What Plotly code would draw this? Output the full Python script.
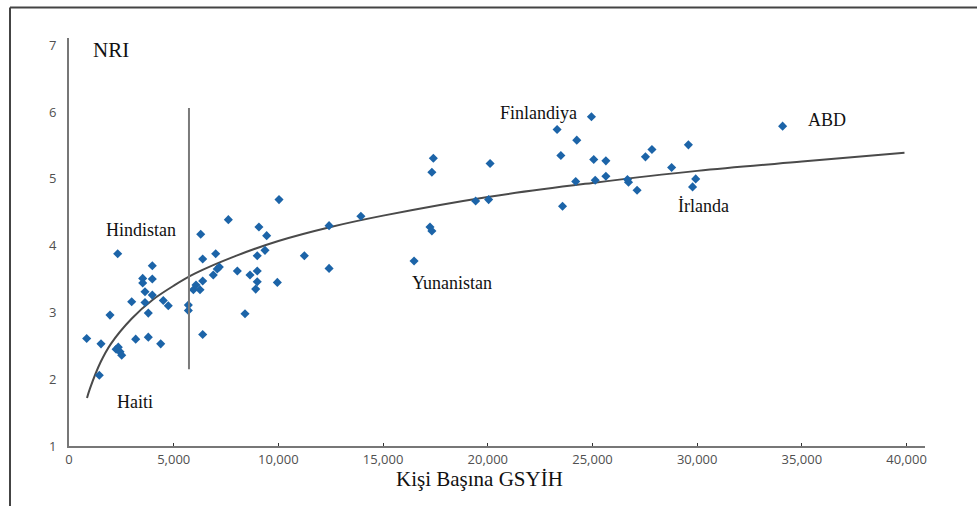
import plotly.graph_objects as go

# Scatter data: GDP per capita (x) vs NRI (y)
gdp = [845, 1528, 1447, 1958, 2326, 2250, 2354, 2436, 2517, 2994, 3185, 3520, 3520, 3630, 3630,
       3787, 3787, 3978, 3978, 3978, 4380, 4503, 4742,
       5700, 5700, 5940, 6065, 6256, 6385, 6385, 6290, 6385, 6890, 7006, 7080, 7180, 7610,
       8040, 8405, 8644, 8916, 8990, 8990, 8990, 9070, 9360, 9440, 9950, 10030, 11240,
       12420, 12420, 13940, 16480, 17240, 17330, 17330, 17400, 19420, 20040, 20110,
       23310, 23490, 23570, 24250, 24200, 24950, 25060, 25130, 25640, 25640, 26670, 26720,
       27130, 27530, 27840, 28780, 29580, 29930, 29780, 34080]
nri = [2.61, 2.53, 2.06, 2.96, 3.88, 2.45, 2.48, 2.41, 2.36, 3.16, 2.60, 3.51, 3.44, 3.31, 3.15,
       2.99, 2.63, 3.70, 3.50, 3.26, 2.53, 3.18, 3.10,
       3.11, 3.03, 3.34, 3.41, 3.34, 3.47, 3.80, 4.17, 2.67, 3.56, 3.88, 3.65, 3.68, 4.39,
       3.62, 2.98, 3.56, 3.35, 3.46, 3.62, 3.85, 4.28, 3.93, 4.15, 3.45, 4.69, 3.85,
       3.66, 4.30, 4.44, 3.77, 4.28, 4.22, 5.10, 5.31, 4.67, 4.69, 5.23,
       5.74, 5.35, 4.59, 5.58, 4.96, 5.93, 5.29, 4.98, 5.27, 5.04, 4.99, 4.95,
       4.83, 5.33, 5.44, 5.17, 5.51, 5.00, 4.88, 5.79]

# Trend curve
trend_x = [860, 1000, 1500, 2000, 3000, 4000, 5000, 6000, 8000, 10000, 12500, 15000,
           20000, 25000, 30000, 35000, 39900]
trend_y = [1.72, 1.86, 2.25, 2.53, 2.91, 3.19, 3.40, 3.58, 3.85, 4.07, 4.28, 4.45,
           4.73, 4.94, 5.12, 5.26, 5.39]

# Vertical reference line
vline_x = 5730
vline_y = [2.15, 6.06]

# Country labels
label_text = ["Hindistan", "Haiti", "Yunanistan", "Finlandiya", "İrlanda", "ABD"]
label_x = [3440, 3150, 18270, 22400, 30280, 36200]
label_y = [4.23, 1.66, 3.44, 5.99, 4.59, 5.88]

x_ticks = [0, 5000, 10000, 15000, 20000, 25000, 30000, 35000, 40000]
x_ticktext = ["0", "5,000", "10,000", "15,000", "20,000", "25,000", "30,000", "35,000", "40,000"]
y_ticks = [1, 2, 3, 4, 5, 6, 7]

serif = "Liberation Serif, Times New Roman, serif"
sans = "Open Sans, Liberation Sans, sans-serif"

fig = go.Figure()
fig.add_trace(go.Scatter(x=trend_x, y=trend_y, mode="lines",
                         line=dict(color="#4a4a4a", width=2, shape="spline"),
                         hoverinfo="skip", showlegend=False))
fig.add_trace(go.Scatter(x=gdp, y=nri, mode="markers",
                         marker=dict(symbol="diamond", size=7, color="#1c64a8"),
                         showlegend=False))
fig.add_trace(go.Scatter(x=[vline_x, vline_x], y=vline_y, mode="lines",
                         line=dict(color="#7a7a7a", width=2),
                         hoverinfo="skip", showlegend=False))

for t, x, y in zip(label_text, label_x, label_y):
    fig.add_annotation(x=x, y=y, text=t, showarrow=False,
                       font=dict(family=serif, size=18, color="#111"))

fig.add_annotation(x=1050, y=6.93, text="NRI", showarrow=False, xanchor="left",
                   font=dict(family=serif, size=21, color="#111"))
fig.add_annotation(xref="paper", yref="paper", x=(479 - 69) / 856, y=(446 - 493) / 408,
                   text="Kişi Başına GSYİH", showarrow=False,
                   font=dict(family=serif, size=21, color="#111"))

# outer frame (top and left edges visible)
top_y = (446 - 7.5) / 408
left_x = (10 - 69) / 856
fig.add_shape(type="line", xref="paper", yref="paper",
              x0=left_x, x1=(977 - 69) / 856, y0=top_y, y1=top_y,
              line=dict(color="#444", width=2))
fig.add_shape(type="line", xref="paper", yref="paper",
              x0=left_x, x1=left_x, y0=top_y, y1=(446 - 506) / 408,
              line=dict(color="#444", width=2))

fig.update_layout(
    width=977, height=506,
    margin=dict(l=69, r=52, t=38, b=60),
    plot_bgcolor="white", paper_bgcolor="white",
    xaxis=dict(range=[0, 40880], tickvals=x_ticks, ticktext=x_ticktext,
               showgrid=False, zeroline=False, showline=True, linecolor="#777", linewidth=2,
               ticks="inside", ticklen=3, tickcolor="#333", tickwidth=1,
               tickfont=dict(family=sans, size=13, color="#505050")),
    yaxis=dict(range=[1, 7.11], tickvals=y_ticks,
               showgrid=False, zeroline=False, showline=True, linecolor="#777", linewidth=2,
               ticks="", ticklabelstandoff=8,
               tickfont=dict(family=sans, size=13, color="#505050")),
)

fig.write_html("out.html", config={"displayModeBar": False},
               post_script="document.body.style.margin='0';document.body.style.overflow='hidden';")
